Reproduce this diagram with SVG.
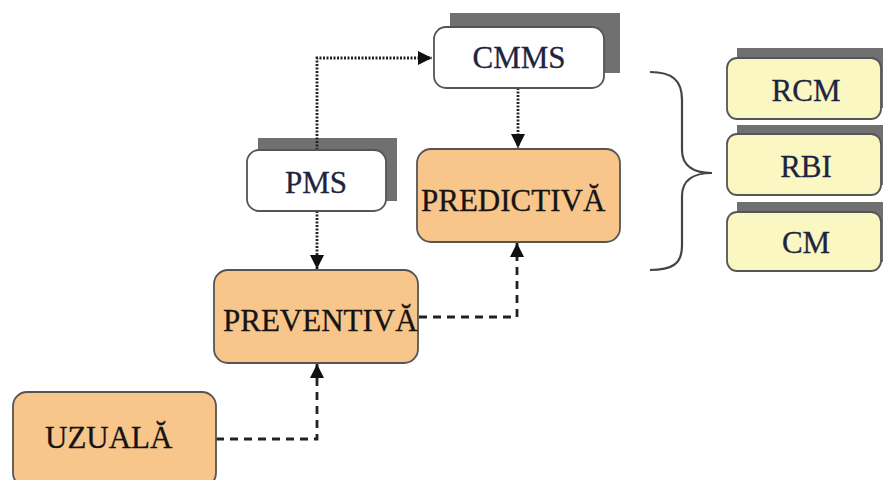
<svg xmlns="http://www.w3.org/2000/svg" width="883" height="480" viewBox="0 0 883 480">
  <style>
    .orange { fill: #F8C58B; stroke: #555; stroke-width: 1.8; }
    .white { fill: #ffffff; stroke: #555; stroke-width: 1.8; }
    .yellow { fill: #FAF7C2; stroke: #555; stroke-width: 1.8; }
    .shadow { fill: #707070; }
    .lbl { font-family: "Liberation Serif", "Times New Roman", serif; font-size: 31px; fill: #141414; stroke: #141414; stroke-width: 0.3; }
    .lbl-blue { font-family: "Liberation Serif", "Times New Roman", serif; font-size: 31px; fill: #1c2440; stroke: #1c2440; stroke-width: 0.3; text-anchor: middle; }
    .dotted { fill: none; stroke: #222; stroke-width: 2.8; stroke-dasharray: 2 1.5; }
    .dashed { fill: none; stroke: #222; stroke-width: 2.8; stroke-dasharray: 8 6; }
    .brace { fill: none; stroke: #444; stroke-width: 2.2; }
  </style>
  <defs>
    <marker id="arrow" viewBox="0 0 10 10" refX="10" refY="5" markerWidth="14" markerHeight="14" markerUnits="userSpaceOnUse" orient="auto">
      <path d="M0,0 L10,5 L0,10 z" fill="#111"/>
    </marker>
  </defs>

  <rect width="883" height="480" fill="#ffffff"/>

  <!-- shadows of the white boxes sit behind the dotted link -->
  <rect class="shadow" x="450" y="13" width="170" height="60"/>
  <rect class="shadow" x="258" y="138" width="139" height="63"/>

  <g id="connectors">
    <!-- PMS -> CMMS -->
    <path class="dotted" d="M317,150 L317,58 L432,58" marker-end="url(#arrow)"/>
    <!-- PMS -> PREVENTIVĂ -->
    <path class="dotted" d="M317,211 L317,269" marker-end="url(#arrow)"/>
    <!-- CMMS -> PREDICTIVĂ -->
    <path class="dotted" d="M518,88 L518,148" marker-end="url(#arrow)"/>
    <!-- UZUALĂ -> PREVENTIVĂ -->
    <path class="dashed" d="M216,439 L317,439 L317,364" marker-end="url(#arrow)"/>
    <!-- PREVENTIVĂ -> PREDICTIVĂ -->
    <path class="dashed" d="M419,317 L517,317 L517,243" marker-end="url(#arrow)"/>
  </g>

  <g id="cmms">
    <rect class="white" x="434" y="27" width="170" height="61" rx="12"/>
    <text class="lbl-blue" x="519" y="68">CMMS</text>
  </g>

  <g id="pms">
    <rect class="white" x="247" y="150" width="139" height="61" rx="12"/>
    <text class="lbl-blue" x="316" y="193">PMS</text>
  </g>

  <g id="predictiva">
    <rect class="orange" x="417" y="149" width="203" height="93" rx="14"/>
    <text class="lbl" x="421" y="211">PREDICTIVĂ</text>
  </g>

  <g id="preventiva">
    <rect class="orange" x="214" y="270" width="204" height="93" rx="14"/>
    <text class="lbl" x="223" y="331">PREVENTIVĂ</text>
  </g>

  <g id="uzuala">
    <rect class="orange" x="13" y="392" width="203" height="95" rx="14"/>
    <text class="lbl" x="45" y="448">UZUALĂ</text>
  </g>

  <g id="brace">
    <path class="brace" d="M650,72 C672,72 682,80 682,100 L682,150 C682,166 694,173 712,173 C694,173 682,180 682,196 L682,246 C682,264 672,270 650,270"/>
  </g>

  <g id="rcm">
    <rect class="shadow" x="737" y="48" width="146" height="60"/>
    <rect class="yellow" x="727" y="58" width="154" height="61" rx="10"/>
    <text class="lbl-blue" x="806" y="101">RCM</text>
  </g>

  <g id="rbi">
    <rect class="shadow" x="737" y="125" width="146" height="60"/>
    <rect class="yellow" x="727" y="134" width="154" height="61" rx="10"/>
    <text class="lbl-blue" x="806" y="177">RBI</text>
  </g>

  <g id="cm">
    <rect class="shadow" x="737" y="202" width="146" height="60"/>
    <rect class="yellow" x="727" y="212" width="154" height="59" rx="10"/>
    <text class="lbl-blue" x="806" y="253">CM</text>
  </g>
</svg>
